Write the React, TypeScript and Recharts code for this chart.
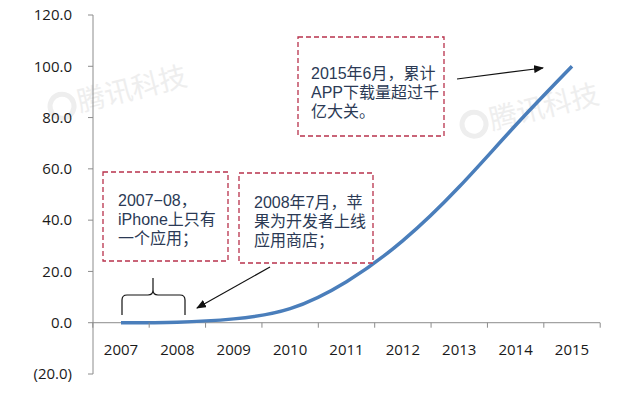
import React from 'react';
import { LineChart, Line, XAxis, YAxis, ReferenceLine } from 'recharts';

// Cumul des téléchargements d'apps (milliards)
const annees = ['2007', '2008', '2009', '2010', '2011', '2012', '2013', '2014', '2015'];
const telechargements = [0, 0.2, 1.5, 5.5, 16, 32, 53, 77, 100];
const graduationsY = [-20, 0, 20, 40, 60, 80, 100, 120];

const donnees = annees.map((annee, i) => ({ annee, valeur: telechargements[i] }));

const W = 640;
const H = 394;
const HAUTEUR_AXE_X = 20;
const MARGE = { top: 15, right: 40, bottom: 0, left: 0 };
const LARGEUR_AXE_Y = 93;
const PAD_X = 28;
const largeurTrace = W - MARGE.left - MARGE.right - LARGEUR_AXE_Y;
const pas = (largeurTrace - 2 * PAD_X) / (annees.length - 1);
const hauteurTrace = H - MARGE.top - MARGE.bottom - HAUTEUR_AXE_X;
const yZero = MARGE.top + (120 / 140) * hauteurTrace;

const police = '"Open Sans", "Noto Sans CJK SC", sans-serif';
const policeNote = '"Liberation Sans", "Noto Sans CJK SC", sans-serif';
const policeCJK = '"Noto Sans CJK SC", "Noto Sans", sans-serif';

function formatY(v: number) {
  return v < 0 ? `(${Math.abs(v).toFixed(1)})` : v.toFixed(1);
}

function TickAnnee(props: any) {
  const { x, payload, index } = props;
  const dernier = index === annees.length - 1;
  return (
    <g>
      <line x1={x - pas / 2} y1={yZero} x2={x - pas / 2} y2={yZero + 5} stroke="#8c8c8c" />
      {dernier && (
        <line x1={x + pas / 2} y1={yZero} x2={x + pas / 2} y2={yZero + 5} stroke="#8c8c8c" />
      )}
      <text
        x={x}
        y={yZero + 27}
        dy="0.35em"
        textAnchor="middle"
        fill="#1a1a1a"
        fontSize={15}
        fontFamily={police}
      >
        {payload.value}
      </text>
    </g>
  );
}

function Filigranes() {
  const items = [
    { x: 80, y: 112 },
    { x: 492, y: 130 },
  ];
  return (
    <svg width={W} height={H} style={{ position: 'absolute', left: 0, top: 0 }}>
      {items.map((it, i) => (
        <g key={i} transform={`rotate(-14 ${it.x} ${it.y})`}>
          <circle cx={it.x - 16} cy={it.y - 10} r={12} fill="none" stroke="#eeeeee" strokeWidth={5} />
          <text x={it.x} y={it.y} fontSize={28} fill="#eeeeee" fontFamily={policeCJK}>
            腾讯科技
          </text>
        </g>
      ))}
    </svg>
  );
}

function Encadre({ x, y, w, h, lignes, px, py }: any) {
  return (
    <g>
      <rect x={x} y={y} width={w} height={h} fill="#fff" stroke="#b8324c" strokeWidth={1.3} strokeDasharray="5 3" />
      {lignes.map((l: string, i: number) => (
        <text key={i} x={x + px} y={y + py + i * 18.8} fontSize={16} fill="#2b3a55" fontFamily={policeNote}>
          {l}
        </text>
      ))}
    </g>
  );
}

function Annotations() {
  return (
    <svg width={W} height={H} style={{ position: 'absolute', left: 0, top: 0 }}>
      <defs>
        <marker id="fleche" markerWidth="10" markerHeight="8" refX="9" refY="4" orient="auto" markerUnits="userSpaceOnUse">
          <path d="M0,0 L10,4 L0,8 Z" fill="#111" />
        </marker>
      </defs>
      <Encadre x={103} y={172} w={125} h={89} px={15} py={34} lignes={['2007−08，', 'iPhone上只有', '一个应用；']} />
      <Encadre x={239} y={173} w={134} h={90} px={15} py={35} lignes={['2008年7月，苹', '果为开发者上线', '应用商店；']} />
      <Encadre x={298} y={37} w={146} h={99} px={13} py={42} lignes={['2015年6月，累计', 'APP下载量超过千', '亿大关。']} />
      <line x1={270} y1={267} x2={197} y2={308} stroke="#111" strokeWidth={1.2} markerEnd="url(#fleche)" />
      <line x1={457} y1={79} x2={543} y2={68} stroke="#111" strokeWidth={1.2} markerEnd="url(#fleche)" />
      <path
        d="M122,315 L122,300 Q122,295 127,295 L148,295 Q153,295 153,290 L153,278 M153,290 Q153,295 158,295 L180,295 Q185,295 185,300 L185,315"
        fill="none"
        stroke="#111"
        strokeWidth={1.2}
      />
    </svg>
  );
}

export default function App() {
  return (
    <div style={{ position: 'absolute', left: 0, top: 0, width: W, height: H, background: '#fff' }}>
      <Filigranes />
      <div style={{ position: 'absolute', left: 0, top: 0 }}>
        <LineChart width={W} height={H} data={donnees} margin={MARGE}>
          <XAxis
            dataKey="annee"
            height={HAUTEUR_AXE_X}
            padding={{ left: PAD_X, right: PAD_X }}
            axisLine={false}
            tickLine={false}
            tick={<TickAnnee />}
            interval={0}
          />
          <YAxis
            domain={[-20, 120]}
            ticks={graduationsY}
            width={LARGEUR_AXE_Y}
            tickFormatter={formatY}
            tickSize={5}
            tickMargin={16}
            axisLine={{ stroke: '#8c8c8c' }}
            tickLine={{ stroke: '#8c8c8c' }}
            tick={{ fill: '#1a1a1a', fontSize: 15, fontFamily: police }}
            allowDataOverflow
          />
          <ReferenceLine y={0} stroke="#8c8c8c" />
          <Line
            type="natural"
            dataKey="valeur"
            stroke="#4a7ebb"
            strokeWidth={3.5}
            dot={false}
            isAnimationActive={false}
          />
        </LineChart>
      </div>
      <Annotations />
    </div>
  );
}
